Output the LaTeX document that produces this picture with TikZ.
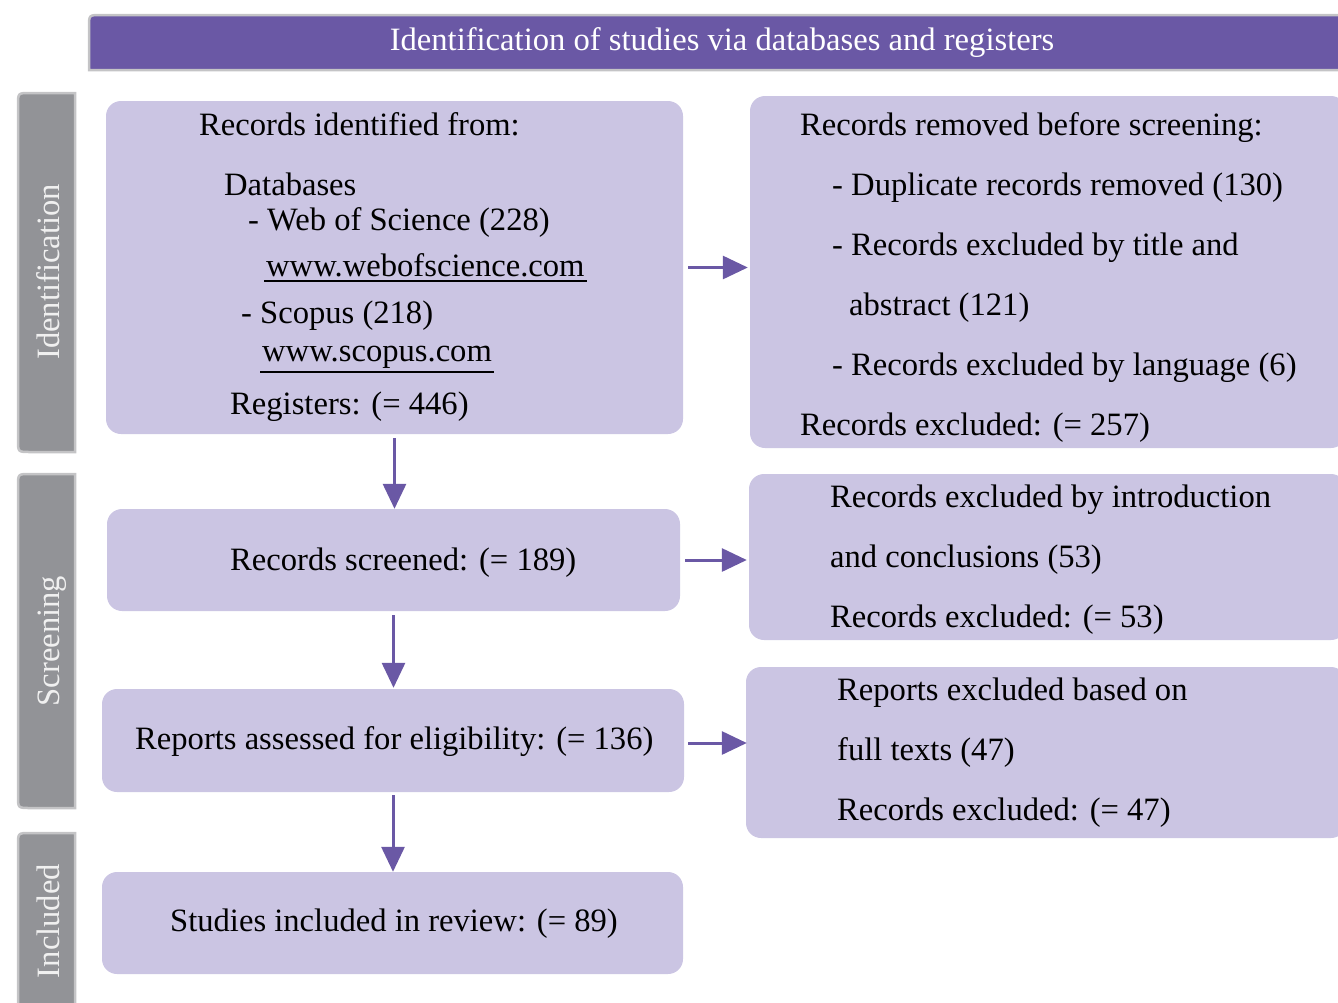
\documentclass[tikz,border=0pt]{standalone}
\usepackage{fontspec}
\setmainfont{Liberation Serif}
\usetikzlibrary{arrows.meta,calc}
\definecolor{hdr}{HTML}{6A58A5}
\definecolor{boxfill}{HTML}{CBC5E3}
\definecolor{tabfill}{HTML}{929397}
\definecolor{tabline}{HTML}{C4C4C6}
\tikzset{
  box/.style={fill=boxfill, draw=none, rounded corners=15pt, inner sep=0pt},
  txt/.style={anchor=base west, inner sep=0pt, font=\fontsize{32.6}{38}\selectfont},
  ctxt/.style={anchor=base, inner sep=0pt, font=\fontsize{32.6}{38}\selectfont},
  tablbl/.style={anchor=base, inner sep=0pt, rotate=90, text=white!94!black, font=\fontsize{32.6}{38}\selectfont},
  tabshape/.style={fill=tabfill, draw=tabline, line width=2.5pt},
  flow/.style={draw=hdr, line width=3pt, -{Triangle[length=25pt,width=23pt]}},
  uline/.style={draw=black, line width=1.3pt}
}
\begin{document}
\begin{tikzpicture}[x=1pt,y=-1pt]
\useasboundingbox (0,0) rectangle (1338,1002);
\clip (0,0) rectangle (1338,1002);
% header
\path[fill=hdr, draw=tabline, line width=2.5pt] (1360,15) -- (101,15) .. controls (89,15) .. (89,27) -- (89,70) -- (1360,70) -- cycle;
\node[ctxt, text=white] (hdrtxt) at (722,50) {Identification of studies via databases and registers};
% side tabs
\path[tabshape] (75,93) -- (30,93) .. controls (18,93) .. (18,105) -- (18,440) .. controls (18,452) .. (30,452) -- (75,452) -- cycle;
\node[tablbl] (tab1) at (59,272) {Identification};
\path[tabshape] (75,474) -- (30,474) .. controls (18,474) .. (18,486) -- (18,796) .. controls (18,808) .. (30,808) -- (75,808) -- cycle;
\node[tablbl] (tab2) at (59,641) {Screening};
\path[tabshape] (75,833) -- (30,833) .. controls (18,833) .. (18,845) -- (18,1020) -- (75,1020) -- cycle;
\node[tablbl] (tab3) at (59,921) {Included};
% boxes
\node[box, minimum width=577pt, minimum height=333pt] (b1) at (394.5,267.5) {};
\node[box, minimum width=596pt, minimum height=352pt] (b2) at (1048,272) {};
\node[box, minimum width=573pt, minimum height=102pt] (b3) at (393.5,560) {};
\node[box, minimum width=597pt, minimum height=166pt] (b4) at (1047.5,557) {};
\node[box, minimum width=582pt, minimum height=103pt] (b5) at (393,740.5) {};
\node[box, minimum width=600pt, minimum height=171pt] (b6) at (1046,752.5) {};
\node[box, minimum width=581pt, minimum height=102pt] (b7) at (392.5,923) {};
% box 1 text
\node[txt] (t11) at (199,135) {Records identified from:};
\node[txt] (t12) at (224,195) {Databases};
\node[txt] (t13) at (248,230) {- Web of Science (228)};
\node[txt] (t14) at (266,276) {www.webofscience.com};
\draw[uline] (t14.base west) ++(-2,5) coordinate (u1a) -- ($(t14.base east)+(2,5)$) coordinate (u1b);
\node[txt] (t15) at (241,323) {- Scopus (218)};
\node[txt] (t16) at (262,361) {www.scopus.com};
\draw[uline] (t16.base west) ++(-2,11) coordinate (u2a) -- ($(t16.base east)+(2,11)$) coordinate (u2b);
\node[txt] (t17) at (230,414) {Registers: (= 446)};
% box 2 text
\node[txt] (t21) at (800,135) {Records removed before screening:};
\node[txt] (t22) at (832,195) {- Duplicate records removed (130)};
\node[txt] (t23) at (832,255) {- Records excluded by title and};
\node[txt] (t24) at (849,315) {abstract (121)};
\node[txt] (t25) at (832,375) {- Records excluded by language (6)};
\node[txt] (t26) at (800,435) {Records excluded: (= 257)};
% box 3
\node[txt] (t31) at (230,570) {Records screened: (= 189)};
% box 4
\node[txt] (t41) at (830,507) {Records excluded by introduction};
\node[txt] (t42) at (830,567) {and conclusions (53)};
\node[txt] (t43) at (830,627) {Records excluded: (= 53)};
% box 5
\node[txt] (t51) at (135,749) {Reports assessed for eligibility: (= 136)};
% box 6
\node[txt] (t61) at (837,700) {Reports excluded based on};
\node[txt] (t62) at (837,760) {full texts (47)};
\node[txt] (t63) at (837,820) {Records excluded: (= 47)};
% box 7
\node[txt] (t71) at (170,931) {Studies included in review: (= 89)};
% arrows
\draw[flow, shorten <=4pt] (b1.south) -- (b1.south |- b3.north);
\draw[flow, shorten <=4pt, shorten >=1pt] (b3.south) -- (b3.south |- b5.north);
\draw[flow, shorten <=3pt] (b5.south) -- (b5.south |- b7.north);
\draw[flow, shorten <=5pt, shorten >=2pt] (b1.east) -- (b1.east -| b2.west);
\draw[flow, shorten <=5pt, shorten >=2pt] (b3.east) -- (b3.east -| b4.west);
\draw[flow, shorten <=4pt, shorten >=-1pt] ($(b5.east)+(0,2.5)$) coordinate (a3s) -- (a3s -| b6.west);
\end{tikzpicture}
\end{document}
